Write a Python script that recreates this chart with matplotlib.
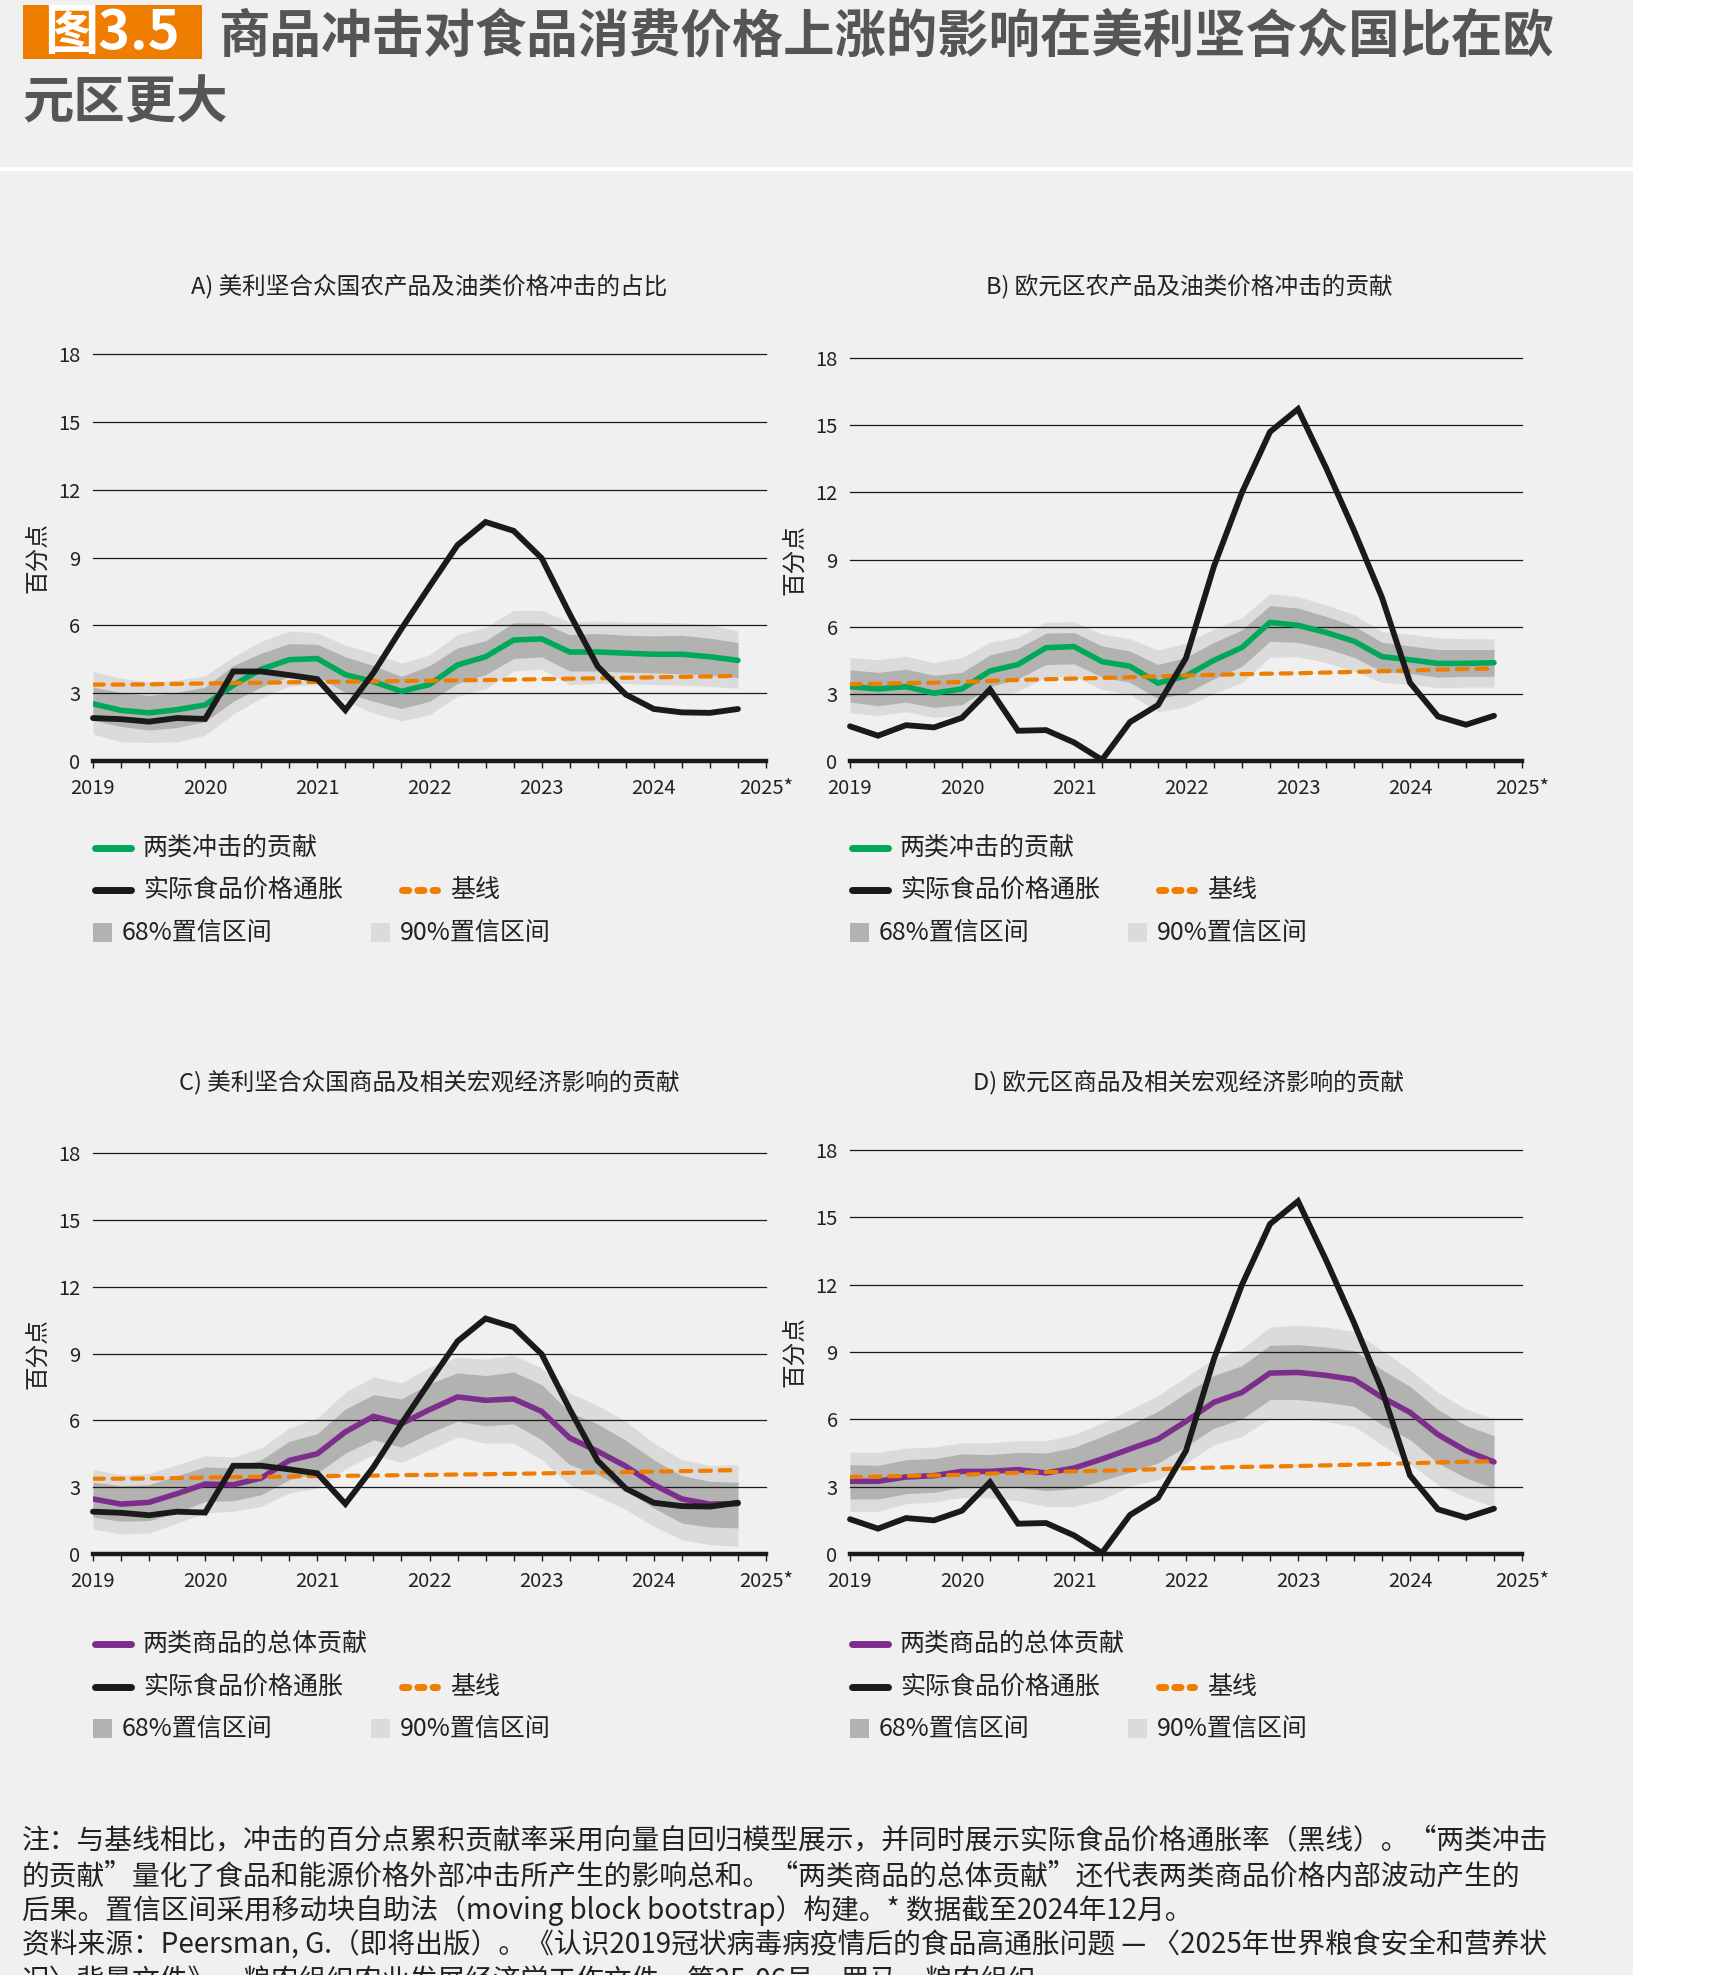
import matplotlib
matplotlib.use('Agg')
import matplotlib.pyplot as plt
from matplotlib.lines import Line2D
from matplotlib.patches import Rectangle

plt.rcParams['font.family'] = ['Noto Sans CJK SC', 'DejaVu Sans']

W, H = 1712, 1975

# ---------------- data ----------------
quarters = ['2019Q1', '2019Q2', '2019Q3', '2019Q4', '2020Q1', '2020Q2', '2020Q3', '2020Q4',
            '2021Q1', '2021Q2', '2021Q3', '2021Q4', '2022Q1', '2022Q2', '2022Q3', '2022Q4',
            '2023Q1', '2023Q2', '2023Q3', '2023Q4', '2024Q1', '2024Q2', '2024Q3', '2024Q4']
year_ticks = [2019, 2020, 2021, 2022, 2023, 2024, 2025]
year_labels = ['2019', '2020', '2021', '2022', '2023', '2024', '2025*']
y_ticks = [0, 3, 6, 9, 12, 15, 18]

# actual food inflation (black lines)
us_actual = [1.90, 1.85, 1.74, 1.90, 1.86, 3.96, 3.96, 3.80, 3.62, 2.25, 3.90, 5.85,
             7.72, 9.55, 10.57, 10.18, 8.97, 6.50, 4.18, 2.94, 2.30, 2.15, 2.13, 2.30]
ea_actual = [1.55, 1.13, 1.60, 1.50, 1.93, 3.20, 1.35, 1.38, 0.83, 0.05, 1.74, 2.50,
             4.60, 8.70, 12.00, 14.70, 15.72, 13.10, 10.30, 7.30, 3.50, 1.99, 1.62, 2.02]

# baselines (orange dashed)
us_baseline = [3.38, 3.38, 3.39, 3.41, 3.43, 3.45, 3.46, 3.48, 3.50, 3.51, 3.52, 3.54,
               3.55, 3.57, 3.58, 3.60, 3.62, 3.64, 3.66, 3.68, 3.70, 3.72, 3.74, 3.77]
ea_baseline = [3.43, 3.45, 3.48, 3.50, 3.53, 3.58, 3.62, 3.65, 3.68, 3.71, 3.74, 3.78,
               3.82, 3.85, 3.88, 3.90, 3.92, 3.95, 3.98, 4.01, 4.04, 4.08, 4.11, 4.13]

# A) US agricultural + oil shocks
a_mid = [2.53, 2.24, 2.13, 2.27, 2.48, 3.35, 4.06, 4.48, 4.53, 3.82, 3.51, 3.08,
         3.38, 4.25, 4.61, 5.35, 5.40, 4.82, 4.82, 4.77, 4.72, 4.72, 4.61, 4.45]
a_hi68 = [3.27, 3.03, 2.90, 3.03, 3.27, 4.22, 4.77, 5.19, 5.16, 4.61, 4.22, 3.74,
          4.22, 5.00, 5.32, 6.11, 6.11, 5.59, 5.64, 5.56, 5.53, 5.56, 5.43, 5.24]
a_lo68 = [1.80, 1.53, 1.37, 1.48, 1.74, 2.64, 3.27, 3.74, 3.74, 3.03, 2.64, 2.32,
          2.64, 3.43, 3.82, 4.53, 4.61, 3.98, 3.98, 3.93, 3.90, 3.85, 3.82, 3.69]
a_hi90 = [3.95, 3.66, 3.50, 3.58, 3.77, 4.61, 5.29, 5.75, 5.67, 5.12, 4.77, 4.33,
          4.69, 5.59, 5.91, 6.66, 6.66, 6.14, 6.19, 6.14, 6.14, 6.11, 6.03, 5.75]
a_lo90 = [1.18, 0.85, 0.82, 0.85, 1.14, 2.08, 2.79, 3.32, 3.38, 2.64, 2.13, 1.77,
          2.05, 2.87, 3.19, 3.98, 4.06, 3.38, 3.43, 3.43, 3.38, 3.35, 3.30, 3.22]

# B) euro area agricultural + oil shocks
b_mid = [3.32, 3.22, 3.32, 3.03, 3.22, 4.02, 4.31, 5.06, 5.11, 4.44, 4.23, 3.48,
         3.80, 4.50, 5.07, 6.19, 6.06, 5.74, 5.35, 4.66, 4.52, 4.36, 4.36, 4.39]
b_hi68 = [4.07, 3.96, 4.10, 3.83, 3.96, 4.74, 5.03, 5.71, 5.74, 5.14, 4.91, 4.31,
          4.63, 5.30, 5.86, 6.94, 6.83, 6.46, 6.03, 5.30, 5.14, 4.98, 4.98, 4.98]
b_lo68 = [2.63, 2.47, 2.63, 2.39, 2.52, 3.32, 3.67, 4.31, 4.34, 3.75, 3.51, 2.79,
          3.03, 3.67, 4.23, 5.35, 5.30, 5.03, 4.63, 3.99, 3.91, 3.75, 3.78, 3.78]
b_hi90 = [4.63, 4.52, 4.68, 4.39, 4.63, 5.30, 5.54, 6.19, 6.22, 5.66, 5.46, 4.95,
          5.27, 5.90, 6.41, 7.47, 7.34, 6.97, 6.54, 5.78, 5.66, 5.50, 5.46, 5.46]
b_lo90 = [2.15, 2.03, 2.20, 1.95, 2.04, 2.87, 3.11, 3.75, 3.78, 3.19, 2.98, 2.20,
          2.43, 3.03, 3.51, 4.63, 4.66, 4.39, 4.02, 3.51, 3.43, 3.27, 3.30, 3.30]

# C) US total commodities contribution
c_mid = [2.47, 2.24, 2.32, 2.71, 3.14, 3.11, 3.41, 4.20, 4.50, 5.48, 6.18, 5.85,
         6.48, 7.05, 6.90, 6.96, 6.40, 5.21, 4.61, 3.94, 3.11, 2.47, 2.24, 2.26]
c_hi68 = [3.22, 3.07, 3.11, 3.52, 3.91, 3.86, 4.23, 5.06, 5.40, 6.51, 7.15, 6.96,
          7.65, 8.13, 8.01, 8.17, 7.60, 6.36, 5.84, 5.10, 4.23, 3.52, 3.26, 3.22]
c_lo68 = [1.66, 1.47, 1.50, 1.87, 2.36, 2.39, 2.66, 3.34, 3.64, 4.53, 5.13, 4.80,
          5.43, 5.96, 5.76, 5.84, 5.13, 4.01, 3.56, 2.86, 2.06, 1.39, 1.21, 1.17]
c_hi90 = [3.79, 3.56, 3.61, 4.01, 4.41, 4.35, 4.76, 5.66, 6.11, 7.26, 7.95, 7.68,
          8.39, 8.83, 8.75, 8.92, 8.35, 7.23, 6.66, 5.96, 4.98, 4.23, 3.98, 4.01]
c_lo90 = [1.12, 0.90, 0.94, 1.39, 1.84, 1.92, 2.14, 2.74, 2.96, 3.82, 4.46, 4.11,
          4.68, 5.25, 4.98, 4.98, 4.23, 3.11, 2.59, 1.99, 1.24, 0.64, 0.42, 0.34]

# D) euro area total commodities contribution
d_mid = [3.24, 3.24, 3.43, 3.49, 3.68, 3.68, 3.76, 3.61, 3.83, 4.23, 4.68, 5.12,
         5.91, 6.76, 7.20, 8.06, 8.09, 7.96, 7.77, 6.98, 6.31, 5.32, 4.60, 4.10]
d_hi68 = [3.98, 3.95, 4.20, 4.25, 4.46, 4.43, 4.53, 4.50, 4.75, 5.24, 5.76, 6.36,
          7.17, 7.95, 8.39, 9.30, 9.33, 9.22, 9.06, 8.21, 7.47, 6.43, 5.72, 5.27]
d_lo68 = [2.45, 2.45, 2.69, 2.75, 2.97, 2.94, 2.97, 2.82, 2.91, 3.27, 3.64, 4.05,
          4.80, 5.61, 6.02, 6.88, 6.88, 6.76, 6.58, 5.76, 5.09, 4.05, 3.39, 2.94]
d_hi90 = [4.54, 4.53, 4.72, 4.77, 4.95, 4.95, 5.05, 5.05, 5.32, 5.84, 6.43, 7.05,
          7.89, 8.69, 9.13, 10.11, 10.19, 10.11, 9.92, 9.07, 8.21, 7.20, 6.46, 6.02]
d_lo90 = [1.90, 1.90, 2.24, 2.32, 2.52, 2.50, 2.38, 2.12, 2.12, 2.42, 3.02, 3.31,
          4.05, 4.87, 5.24, 6.06, 6.06, 5.91, 5.69, 4.87, 4.02, 3.09, 2.52, 2.12]

panel_titles = ['A) 美利坚合众国农产品及油类价格冲击的占比',
                'B) 欧元区农产品及油类价格冲击的贡献',
                'C) 美利坚合众国商品及相关宏观经济影响的贡献',
                'D) 欧元区商品及相关宏观经济影响的贡献']
shock_label_top = '两类冲击的贡献'
shock_label_bottom = '两类商品的总体贡献'
actual_label = '实际食品价格通胀'
baseline_label = '基线'
band68_label = '68%置信区间'
band90_label = '90%置信区间'
y_label = '百分点'

title_tag = '图3.5'
title_line1 = '商品冲击对食品消费价格上涨的影响在美利坚合众国比在欧'
title_line2 = '元区更大'
note_lines = [
    '注：与基线相比，冲击的百分点累积贡献率采用向量自回归模型展示，并同时展示实际食品价格通胀率（黑线）。“两类冲击',
    '的贡献”量化了食品和能源价格外部冲击所产生的影响总和。“两类商品的总体贡献”还代表两类商品价格内部波动产生的',
    '后果。置信区间采用移动块自助法（moving block bootstrap）构建。* 数据截至2024年12月。',
    '资料来源：Peersman, G.（即将出版）。《认识2019冠状病毒病疫情后的食品高通胀问题 — 〈2025年世界粮食安全和营养状',
    '况〉背景文件》。粮农组织农业发展经济学工作文件，第25-06号。罗马，粮农组织。',
]

# ---------------- styling ----------------
BG = '#f0f0f0'
ORANGE = '#ef7d00'
GREEN = '#00a85a'
PURPLE = '#7d2e8c'
BLACK = '#1a1a1a'
GREY68 = '#b2b2b1'
GREY90 = '#dbdbdb'
TXT = '#222222'

qx = [int(q[:4]) + (int(q[-1]) - 1) * 0.25 for q in quarters]

fig = plt.figure(figsize=(W / 100, H / 100), dpi=100)
fig.patch.set_facecolor('white')

# pixel-coordinate overlay for backgrounds, titles, legends and notes
bg = fig.add_axes([0, 0, 1, 1], zorder=0)
bg.set_xlim(0, W)
bg.set_ylim(H, 0)
bg.axis('off')
bg.add_patch(Rectangle((0, 0), 1633, 167, color=BG, lw=0))
bg.add_patch(Rectangle((0, 171), 1633, H - 171, color=BG, lw=0))

bg.add_patch(Rectangle((23, 5), 179, 54, color=ORANGE, lw=0))
bg.text(112, 33, title_tag, color='white', fontsize=39, fontweight='bold',
        ha='center', va='center')
bg.text(218, 37, title_line1, color='#555555', fontsize=37, fontweight='bold',
        ha='left', va='center')
bg.text(22, 103, title_line2, color='#555555', fontsize=37, fontweight='bold',
        ha='left', va='center')


def px_axes(x0, ytop, x1, ybot):
    return fig.add_axes([x0 / W, 1 - ybot / H, (x1 - x0) / W, (ybot - ytop) / H], zorder=1)


def draw_panel(ax, mid, lo68, hi68, lo90, hi90, actual, baseline, color):
    ax.patch.set_visible(False)
    ax.fill_between(qx, lo90, hi90, color=GREY90, lw=0, zorder=1)
    ax.fill_between(qx, lo68, hi68, color=GREY68, lw=0, zorder=1.5)
    for v in y_ticks[1:]:
        ax.axhline(v, color=BLACK, lw=0.9, zorder=2, clip_on=False)
    ax.plot(qx, mid, color=color, lw=4, zorder=3, solid_capstyle='round', solid_joinstyle='miter')
    ax.plot(qx, baseline, color=ORANGE, lw=3, zorder=4, linestyle=(0, (2.6, 2.1)),
            dash_capstyle='round')
    ax.plot(qx, actual, color=BLACK, lw=4.2, zorder=5, solid_capstyle='round',
            solid_joinstyle='miter', clip_on=False)
    ax.axhline(0, color=BLACK, lw=3.2, zorder=6, clip_on=False)
    ax.set_xlim(2019, 2025)
    ax.set_ylim(0, 18)
    ax.set_yticks(y_ticks)
    ax.set_xticks(year_ticks)
    ax.set_xticklabels(year_labels)
    ax.set_xticks(qx + [2025], minor=True)
    for s in ax.spines.values():
        s.set_visible(False)
    ax.tick_params(axis='y', length=0, pad=9, labelsize=14.5, labelcolor=TXT)
    ax.tick_params(axis='x', which='both', length=5, width=1, color=BLACK,
                   direction='out', pad=7, labelsize=14.5, labelcolor=TXT)


def draw_legend(left, rows, color, label):
    r1, r2, r3 = rows
    bg.add_line(Line2D([left + 2, left + 38], [r1, r1], color=color, lw=5, solid_capstyle='round'))
    bg.text(left + 50, r1, label, fontsize=18, color=TXT, va='center')
    bg.add_line(Line2D([left + 2, left + 38], [r2, r2], color=BLACK, lw=5, solid_capstyle='round'))
    bg.text(left + 50, r2, actual_label, fontsize=18, color=TXT, va='center')
    bg.add_line(Line2D([left + 309, left + 344], [r2, r2], color=ORANGE, lw=5,
                       linestyle=(0, (0.9, 1.3)), dash_capstyle='round'))
    bg.text(left + 357, r2, baseline_label, fontsize=18, color=TXT, va='center')
    bg.add_patch(Rectangle((left, r3 - 10), 19, 19, color=GREY68, lw=0))
    bg.text(left + 29, r3, band68_label, fontsize=18, color=TXT, va='center')
    bg.add_patch(Rectangle((left + 278, r3 - 10), 19, 19, color=GREY90, lw=0))
    bg.text(left + 307, r3, band90_label, fontsize=18, color=TXT, va='center')


panels = [
    (93, 354, 766, 761, a_mid, a_lo68, a_hi68, a_lo90, a_hi90, us_actual, us_baseline, GREEN),
    (850, 358, 1522, 761, b_mid, b_lo68, b_hi68, b_lo90, b_hi90, ea_actual, ea_baseline, GREEN),
    (93, 1153, 766, 1554, c_mid, c_lo68, c_hi68, c_lo90, c_hi90, us_actual, us_baseline, PURPLE),
    (850, 1150, 1522, 1554, d_mid, d_lo68, d_hi68, d_lo90, d_hi90, ea_actual, ea_baseline, PURPLE),
]
title_y = [286, 286, 1082, 1082]
legend_rows = [(848, 890, 933), (848, 890, 933), (1644, 1687, 1729), (1644, 1687, 1729)]
legend_labels = [shock_label_top, shock_label_top, shock_label_bottom, shock_label_bottom]

for i, (x0, yt, x1, yb, mid, lo68, hi68, lo90, hi90, act, base, col) in enumerate(panels):
    ax = px_axes(x0, yt, x1, yb)
    draw_panel(ax, mid, lo68, hi68, lo90, hi90, act, base, col)
    cx = 429 if x0 < 800 else 1189
    bg.text(cx, title_y[i], panel_titles[i], fontsize=17, color=TXT, ha='center', va='center')
    bg.text(x0 - 55, (yt + yb) / 2, y_label, fontsize=17, color=TXT, rotation=90,
            ha='center', va='center')
    draw_legend(x0, legend_rows[i], col, legend_labels[i])

for j, line in enumerate(note_lines):
    bg.text(22, 1841 + j * 35, line, fontsize=20, color=TXT, ha='left', va='center')

fig.savefig('out.png', dpi=100, facecolor='white')
